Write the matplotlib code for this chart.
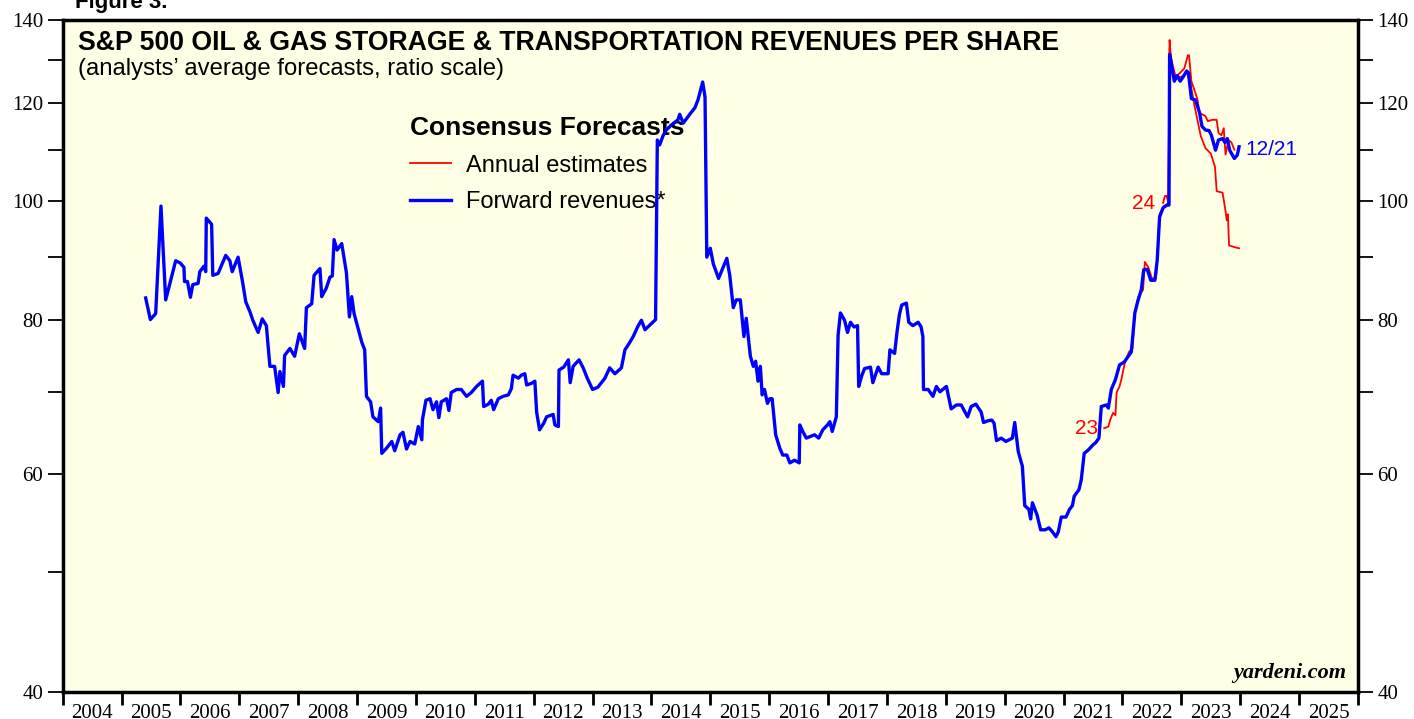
import matplotlib
matplotlib.use("Agg")
import matplotlib.pyplot as plt
from matplotlib.ticker import FixedLocator, NullFormatter
from matplotlib.lines import Line2D

# forward revenues (weekly), decimal years
fwd_dates = [
    2005.41, 2005.49, 2005.58, 2005.67, 2005.75, 2005.92, 2006.00, 2006.06, 2006.07, 2006.12,
    2006.17, 2006.21, 2006.30, 2006.33, 2006.40, 2006.43, 2006.44, 2006.53, 2006.55, 2006.64,
    2006.77, 2006.84, 2006.88, 2006.98, 2007.06, 2007.11, 2007.18, 2007.23, 2007.32, 2007.39,
    2007.46, 2007.52, 2007.60, 2007.66, 2007.69, 2007.75, 2007.77, 2007.86, 2007.94, 2008.02,
    2008.11, 2008.14, 2008.23, 2008.27, 2008.37, 2008.40, 2008.48, 2008.54, 2008.58, 2008.61,
    2008.66, 2008.74, 2008.82, 2008.87, 2008.91, 2008.95, 2009.02, 2009.08, 2009.13, 2009.16,
    2009.23, 2009.27, 2009.36, 2009.40, 2009.42, 2009.50, 2009.59, 2009.64, 2009.73, 2009.78,
    2009.84, 2009.90, 2009.98, 2010.04, 2010.10, 2010.11, 2010.17, 2010.24, 2010.29, 2010.35,
    2010.39, 2010.43, 2010.52, 2010.56, 2010.60, 2010.69, 2010.77, 2010.86, 2010.94, 2011.03,
    2011.13, 2011.15, 2011.23, 2011.28, 2011.32, 2011.40, 2011.48, 2011.57, 2011.62, 2011.65,
    2011.74, 2011.79, 2011.85, 2011.88, 2011.96, 2012.02, 2012.05, 2012.10, 2012.17, 2012.22,
    2012.33, 2012.36, 2012.42, 2012.43, 2012.51, 2012.59, 2012.62, 2012.67, 2012.77, 2012.84,
    2012.91, 2013.00, 2013.09, 2013.21, 2013.29, 2013.38, 2013.49, 2013.55, 2013.62, 2013.69,
    2013.77, 2013.83, 2013.89, 2014.00, 2014.07, 2014.10, 2014.14, 2014.20, 2014.25, 2014.34,
    2014.45, 2014.48, 2014.54, 2014.65, 2014.74, 2014.79, 2014.87, 2014.91, 2014.94, 2015.00,
    2015.05, 2015.14, 2015.20, 2015.28, 2015.33, 2015.39, 2015.44, 2015.51, 2015.57, 2015.61,
    2015.68, 2015.73, 2015.77, 2015.81, 2015.85, 2015.88, 2015.92, 2015.97, 2016.01, 2016.05,
    2016.11, 2016.18, 2016.23, 2016.30, 2016.35, 2016.43, 2016.51, 2016.52, 2016.57, 2016.63,
    2016.77, 2016.84, 2016.91, 2016.99, 2017.03, 2017.07, 2017.14, 2017.17, 2017.21, 2017.28,
    2017.33, 2017.38, 2017.44, 2017.50, 2017.52, 2017.57, 2017.62, 2017.72, 2017.76, 2017.85,
    2017.91, 2018.02, 2018.05, 2018.13, 2018.17, 2018.21, 2018.25, 2018.33, 2018.37, 2018.44,
    2018.53, 2018.58, 2018.61, 2018.62, 2018.70, 2018.78, 2018.84, 2018.90, 2019.01, 2019.09,
    2019.18, 2019.26, 2019.37, 2019.43, 2019.51, 2019.60, 2019.64, 2019.71, 2019.78, 2019.82,
    2019.86, 2019.94, 2020.02, 2020.13, 2020.17, 2020.23, 2020.30, 2020.34, 2020.41, 2020.44,
    2020.47, 2020.55, 2020.61, 2020.69, 2020.75, 2020.81, 2020.87, 2020.91, 2020.96, 2021.04,
    2021.10, 2021.15, 2021.18, 2021.26, 2021.30, 2021.35, 2021.42, 2021.50, 2021.55, 2021.60,
    2021.64, 2021.73, 2021.76, 2021.81, 2021.88, 2021.95, 2022.03, 2022.15, 2022.21, 2022.26,
    2022.32, 2022.36, 2022.42, 2022.48, 2022.55, 2022.59, 2022.63, 2022.69, 2022.76, 2022.79,
    2022.80, 2022.84, 2022.88, 2022.93, 2022.98, 2023.03, 2023.09, 2023.12, 2023.17, 2023.24,
    2023.31, 2023.35, 2023.41, 2023.47, 2023.51, 2023.58, 2023.63, 2023.70, 2023.74, 2023.78,
    2023.82, 2023.90, 2023.95, 2023.98,
]
fwd_values = [
    83.4, 80.1, 81.0, 99.0, 83.1, 89.4, 89.0, 88.3, 86.0, 86.0,
    83.5, 85.5, 85.7, 87.6, 88.5, 87.6, 96.8, 95.7, 87.0, 87.3,
    90.3, 89.4, 87.6, 90.0, 85.7, 82.8, 81.3, 80.0, 78.2, 80.2,
    79.2, 73.4, 73.4, 69.9, 72.7, 70.7, 74.9, 75.9, 74.8, 78.0,
    75.9, 81.9, 82.5, 87.0, 88.1, 83.6, 85.0, 86.7, 86.9, 93.0,
    91.2, 92.3, 87.4, 80.5, 83.6, 81.0, 78.7, 76.8, 75.7, 69.4,
    68.7, 66.8, 66.2, 67.9, 62.4, 63.0, 63.8, 62.7, 64.6, 64.9,
    62.9, 63.8, 63.5, 65.6, 64.0, 66.4, 68.9, 69.1, 67.7, 68.7,
    66.7, 68.7, 69.1, 67.6, 69.9, 70.3, 70.3, 69.4, 69.9, 70.7,
    71.4, 68.1, 68.4, 68.9, 67.7, 69.1, 69.4, 69.6, 70.4, 72.2,
    71.8, 72.2, 72.4, 70.9, 71.1, 71.4, 67.4, 65.2, 66.0, 66.8,
    67.1, 65.8, 65.6, 72.9, 73.3, 74.3, 71.2, 73.4, 74.3, 73.2,
    71.8, 70.3, 70.6, 71.8, 73.2, 72.4, 73.2, 75.7, 76.6, 77.6,
    79.1, 80.0, 78.6, 79.5, 80.1, 112.0, 111.0, 113.0, 114.1, 115.2,
    116.3, 117.5, 115.6, 117.5, 119.0, 120.7, 124.8, 121.4, 90.0, 91.5,
    88.9, 86.5, 87.9, 89.8, 87.0, 81.9, 83.1, 83.1, 77.6, 80.3,
    74.8, 73.4, 74.1, 71.4, 73.4, 69.6, 70.3, 68.5, 69.1, 69.1,
    64.6, 63.0, 62.2, 62.2, 61.3, 61.6, 61.3, 65.8, 65.0, 64.2,
    64.6, 64.2, 65.2, 65.8, 66.2, 65.0, 66.8, 77.8, 81.1, 80.0,
    78.2, 79.7, 79.0, 79.2, 70.7, 72.1, 73.1, 73.3, 71.2, 73.3,
    72.4, 72.4, 75.7, 75.2, 78.2, 80.8, 82.3, 82.6, 79.7, 79.2,
    79.7, 79.0, 77.6, 70.3, 70.3, 69.4, 70.7, 70.0, 70.7, 67.8,
    68.3, 68.3, 66.8, 68.1, 68.4, 67.4, 66.1, 66.3, 66.4, 66.0,
    63.9, 64.2, 63.8, 64.2, 66.1, 62.6, 60.9, 56.6, 56.2, 55.2,
    56.9, 55.6, 54.1, 54.1, 54.3, 53.9, 53.4, 53.9, 55.4, 55.4,
    56.2, 56.6, 57.6, 58.3, 59.4, 62.4, 62.8, 63.4, 63.7, 64.2,
    68.1, 68.3, 67.9, 70.3, 71.6, 73.6, 74.0, 75.4, 81.1, 82.9,
    84.7, 87.9, 88.0, 86.2, 86.2, 89.5, 97.0, 98.7, 99.2, 99.2,
    131.4, 128.3, 125.0, 126.3, 125.0, 126.0, 127.4, 127.0, 121.0, 120.7,
    117.8, 114.9, 114.1, 114.0, 113.0, 109.9, 112.0, 112.3, 111.5, 112.3,
    109.9, 108.2, 108.9, 110.6,
]

# annual estimates for 2023 and 2024
est23_dates = [
    2021.69, 2021.76, 2021.79, 2021.84, 2021.88, 2021.90, 2021.95, 2021.98, 2022.04, 2022.11,
    2022.17, 2022.21, 2022.27, 2022.35, 2022.38, 2022.44, 2022.50, 2022.57, 2022.59, 2022.63,
    2022.70, 2022.78, 2022.80, 2022.84, 2022.90, 2023.00, 2023.10, 2023.16, 2023.22, 2023.33,
    2023.41, 2023.50, 2023.57, 2023.60, 2023.70, 2023.75, 2023.77, 2023.79, 2023.81, 2023.90,
    2023.98,
]
est23_values = [
    65.4, 65.6, 66.4, 67.3, 67.0, 69.9, 70.7, 71.6, 73.9, 75.4,
    75.9, 81.1, 83.6, 84.7, 89.2, 88.3, 86.5, 86.5, 89.5, 97.5,
    99.0, 99.5, 133.0, 129.0, 126.0, 126.0, 127.0, 124.0, 119.6, 112.8,
    110.3, 109.2, 106.6, 101.8, 101.5, 98.1, 96.4, 97.5, 92.0, 91.7,
    91.5,
]
est24_dates = [
    2022.69, 2022.72, 2022.75, 2022.78, 2022.80, 2022.82, 2022.85, 2022.90, 2022.98, 2023.05,
    2023.11, 2023.13, 2023.17, 2023.22, 2023.27, 2023.31, 2023.41, 2023.45, 2023.52, 2023.60,
    2023.63, 2023.68, 2023.72, 2023.75, 2023.80, 2023.85, 2023.90,
]
est24_values = [
    99.6, 100.9, 100.9, 99.6, 135.0, 131.0, 129.0, 126.0, 127.0, 128.0,
    131.2, 131.2, 125.0, 123.0, 121.0, 117.8, 117.1, 116.0, 116.3, 116.3,
    113.5, 113.0, 114.5, 109.0, 112.0, 111.5, 110.0,
]

years = list(range(2004, 2026))
y_major = [40, 60, 80, 100, 120, 140]
y_minor = [50, 70, 90, 110, 130]

sans = ["Liberation Sans", "DejaVu Sans"]
serif = ["Liberation Serif", "DejaVu Serif"]

fig = plt.figure(figsize=(14.14, 7.19), dpi=100)
ax = fig.add_axes([0.0443, 0.0382, 0.9161, 0.9333])
ax.set_facecolor("#ffffe6")

ax.plot(est23_dates, est23_values, color="red", lw=1.3, zorder=3)
ax.plot(est24_dates, est24_values, color="red", lw=1.3, zorder=3)
ax.plot(fwd_dates, fwd_values, color="blue", lw=2.4, zorder=4)

ax.set_yscale("log")
ax.set_ylim(40, 140)
ax.set_xlim(2004, 2026)

ax.yaxis.set_major_locator(FixedLocator(y_major))
ax.yaxis.set_minor_locator(FixedLocator(y_minor))
ax.set_yticklabels([str(v) for v in y_major], family=serif, fontsize=15)
ax.yaxis.set_minor_formatter(NullFormatter())
ax.tick_params(axis="y", which="both", direction="out", length=11, width=1.3,
               left=True, right=True, labelleft=True, labelright=True, pad=3)

ax.xaxis.set_major_locator(FixedLocator(list(range(2004, 2027))))
ax.xaxis.set_minor_locator(FixedLocator([y + 0.5 for y in years]))
ax.xaxis.set_major_formatter(NullFormatter())
ax.set_xticklabels([str(y) for y in years], minor=True, family=serif, fontsize=15)
ax.tick_params(axis="x", which="major", direction="out", length=9, width=2)
ax.tick_params(axis="x", which="minor", length=0, pad=9)

for s in ax.spines.values():
    s.set_linewidth(2.5)

# titles
ax.text(0.0118, 0.986, "S&P 500 OIL & GAS STORAGE & TRANSPORTATION REVENUES PER SHARE",
        transform=ax.transAxes, ha="left", va="top", fontsize=19.2, fontweight="bold", family=sans)
ax.text(0.0118, 0.944, "(analysts\u2019 average forecasts, ratio scale)",
        transform=ax.transAxes, ha="left", va="top", fontsize=17.2, family=sans)
fig.text(0.053, 0.989, "Figure 3.", ha="left", va="baseline", fontsize=16,
         fontweight="bold", family=sans)

# legend
handles = [Line2D([], [], color="red", lw=1.3), Line2D([], [], color="blue", lw=2.4)]
leg = ax.legend(handles, ["Annual estimates", "Forward revenues*"], loc="upper left",
                bbox_to_anchor=(0.268, 0.857), frameon=False, title="Consensus Forecasts",
                alignment="left", prop={"family": sans, "size": 17},
                title_fontproperties={"family": sans, "size": 19, "weight": "bold"},
                handlelength=1.75, handletextpad=0.62, labelspacing=0.6,
                borderpad=0, borderaxespad=0)
leg.set_zorder(2)

# line labels
ax.text(2021.58, 65.4, "23", color="red", ha="right", va="center", fontsize=15, family=sans)
ax.text(2022.56, 99.4, "24", color="red", ha="right", va="center", fontsize=15, family=sans)
ax.text(2024.09, 110.0, "12/21", color="blue", ha="left", va="center", fontsize=15, family=sans)

ax.text(0.991, 0.012, "yardeni.com", transform=ax.transAxes, ha="right", va="bottom",
        fontsize=16, fontweight="bold", fontstyle="italic", family=serif)

fig.savefig("out.png", dpi=100)
